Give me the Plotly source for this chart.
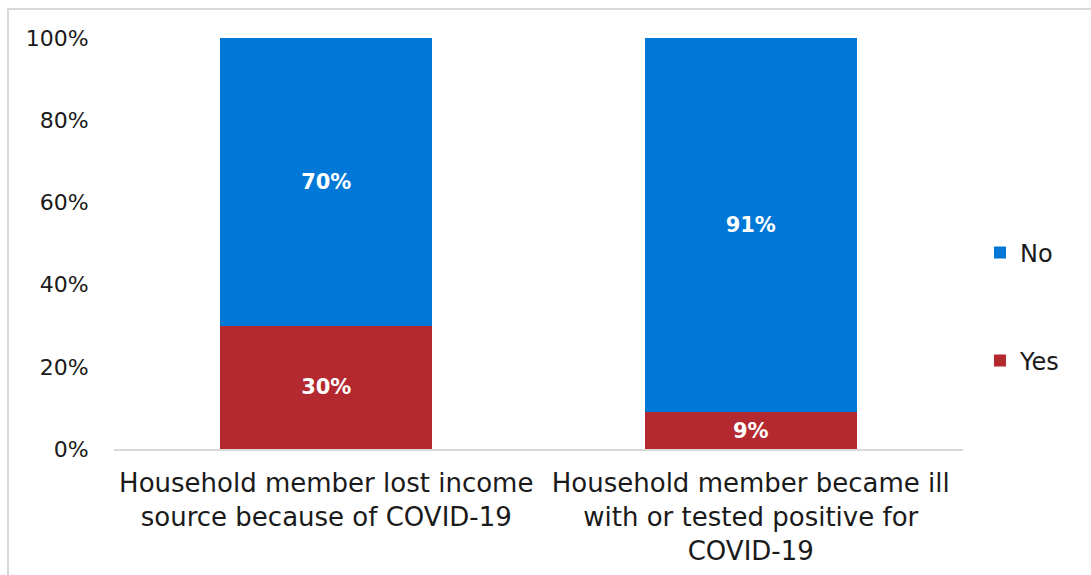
import plotly.graph_objects as go

# Survey items and shares of households answering Yes / No
categories = [
    "Household member lost income<br>source because of COVID-19",
    "Household member became ill<br>with or tested positive for<br>COVID-19",
]
yes_share = [0.30, 0.09]
no_share = [0.70, 0.91]

y_ticks = [0, 0.2, 0.4, 0.6, 0.8, 1.0]
y_tick_labels = ["0%", "20%", "40%", "60%", "80%", "100%"]

FONT = "DejaVu Sans"
RED = "#B3292F"
BLUE = "#0078D7"
GRAY = "#D9D9D9"
TEXT = "#1a1a1a"

W, H = 1091, 575
ML, MR, MT, MB = 114, 128, 38, 126

fig = go.Figure()
fig.add_trace(go.Bar(
    x=categories, y=yes_share, name="Yes", marker_color=RED,
    marker_line_width=0,
    text=[f"{v:.0%}" for v in yes_share], textposition="inside",
    insidetextanchor="middle",
    textfont=dict(family=FONT, size=21, color="white", weight="bold"),
    legendgroup="yes", legendrank=2,
))
fig.add_trace(go.Bar(
    x=categories, y=no_share, name="No", marker_color=BLUE,
    marker_line_width=0,
    text=[f"{v:.0%}" for v in no_share], textposition="inside",
    insidetextanchor="middle",
    textfont=dict(family=FONT, size=21, color="white", weight="bold"),
    legendgroup="no", legendrank=1,
))

# Outer chart frame
pw = W - ML - MR
ph = H - MT - MB
fig.add_shape(
    type="rect", xref="paper", yref="paper", layer="below",
    x0=(8 - ML) / pw, x1=(W + 10 - ML) / pw,
    y0=(MT + ph - (H + 10)) / ph, y1=(MT + ph - 9) / ph,
    line=dict(color=GRAY, width=2), fillcolor="rgba(0,0,0,0)",
)

fig.update_layout(
    width=W, height=H,
    margin=dict(l=ML, r=MR, t=MT, b=MB, pad=0, autoexpand=False),
    barmode="stack", bargap=0.5,
    plot_bgcolor="white", paper_bgcolor="white",
    font=dict(family=FONT, size=22, color=TEXT),
    uniformtext=dict(minsize=21, mode="show"),
    legend=dict(
        x=1.02, xanchor="left", y=0.346, yanchor="middle",
        traceorder="grouped", tracegroupgap=74,
        font=dict(family=FONT, size=24, color=TEXT),
        itemwidth=30, bgcolor="rgba(0,0,0,0)",
    ),
    xaxis=dict(
        automargin=False,
        showline=True, linecolor=GRAY, linewidth=2,
        showgrid=False, ticks="outside", ticklen=10,
        tickcolor="rgba(0,0,0,0)",
        tickfont=dict(family=FONT, size=26, color=TEXT),
    ),
    yaxis=dict(
        automargin=False,
        range=[0, 1], tickvals=y_ticks, ticktext=y_tick_labels,
        showgrid=False, zeroline=False, showline=False,
        ticks="outside", ticklen=20, tickcolor="rgba(0,0,0,0)",
        tickfont=dict(family=FONT, size=22, color=TEXT),
    ),
)

fig.write_html("out.html")
